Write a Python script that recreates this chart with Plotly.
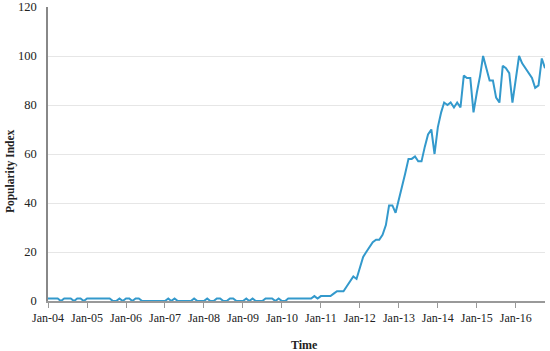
import plotly.graph_objects as go
import pandas as pd

# Monthly popularity index, Jan 2004 .. Oct 2016
values_2004_2007 = [1,1,1,1,0,1,1,1,0,1,1,0,
                    1,1,1,1,1,1,1,1,0,0,1,0,
                    1,1,0,1,1,0,0,0,0,0,0,0,
                    0,1,0,1,0,0,0,0,0,1,0,0]
values_2008_2011 = [0,1,0,0,1,1,0,0,1,1,0,0,
                    0,1,0,1,0,0,0,1,1,1,0,1,
                    0,0,1,1,1,1,1,1,1,1,2,1,
                    2,2,2,2,3,4,4,4,6,8,10,9]
values_2012_2016 = [14,18,20,22,24,25,25,27,31,39,39,36,
                    42,47,52,58,58,59,57,57,63,68,70,60,
                    71,77,81,80,81,79,81,79,92,91,91,77,
                    85,92,100,95,90,90,83,81,96,95,93,81,
                    90,100,97,95,93,91,87,88,99,95]
popularity = values_2004_2007 + values_2008_2011 + values_2012_2016
months = pd.date_range("2004-01-01", periods=len(popularity), freq="MS")

y_ticks = [0, 20, 40, 60, 80, 100, 120]
x_ticks = pd.date_range("2004-01-01", "2016-01-01", freq="YS")
x_title = "Time"
y_title = "Popularity Index"

font_family = "Liberation Serif, DejaVu Serif, serif"

fig = go.Figure()
fig.add_trace(go.Scatter(
    x=months, y=popularity, mode="lines",
    line=dict(color="#3399CC", width=2),
    showlegend=False,
))

fig.update_layout(
    width=550, height=351,
    margin=dict(l=48, r=5, t=7, b=50, autoexpand=False),
    paper_bgcolor="white", plot_bgcolor="white",
    font=dict(family=font_family, size=12, color="#222"),
    xaxis=dict(
        range=[months[0], months[-1]],
        tickvals=list(x_ticks), tickformat="%b-%y",
        showgrid=False, showline=True, linecolor="#999", linewidth=1.5,
        ticks="outside", ticklen=5, tickcolor="#999",
        tickfont=dict(size=12),
    ),
    yaxis=dict(
        range=[0, 120], tickvals=y_ticks,
        showgrid=True, gridcolor="#E6E6E6", gridwidth=1,
        showline=True, linecolor="#888", linewidth=1.5,
        zeroline=False, ticks="", ticklabelstandoff=7,
        tickfont=dict(size=12.5),
    ),
    annotations=[
        dict(text="<b>" + x_title + "</b>", xref="paper", yref="paper",
             x=0.517, y=0, yshift=-44, showarrow=False,
             font=dict(size=12), xanchor="center", yanchor="middle"),
        dict(text="<b>" + y_title + "</b>", xref="paper", yref="paper",
             x=0, xshift=-38, y=0.442, showarrow=False, textangle=-90,
             font=dict(size=11.5), xanchor="center", yanchor="middle"),
    ],
)

fig.write_html("out.html",
               config={"displayModeBar": False},
               post_script="document.body.style.margin='0';document.body.style.padding='0';")
